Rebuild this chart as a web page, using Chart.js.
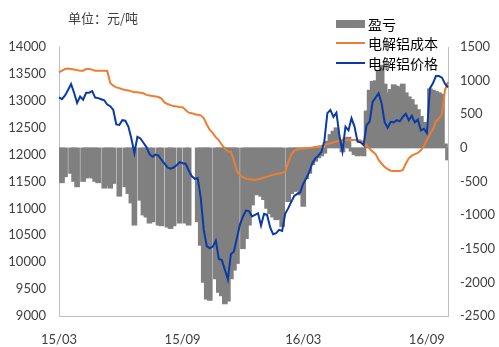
<!DOCTYPE html>
<html>
<head>
<meta charset="utf-8">
<script src="https://cdn.jsdelivr.net/npm/chart.js@4.4.1/dist/chart.umd.min.js"></script>
<style>
  body { margin: 0; background: #fff; }
  #wrap { position: relative; width: 499px; height: 347px; }
  .unit { position: absolute; left: 68px; top: 8px; font: 13px "Noto Sans CJK SC", sans-serif; color: #404040; }
  #legend { position: absolute; left: 336px; top: 14px; font: 14px "Noto Sans CJK SC", sans-serif; color: #000; }
  #legend .row { height: 19.5px; display: flex; align-items: center; }
  #legend .sw { width: 29px; margin-right: 3px; }
</style>
</head>
<body>
<div id="wrap">
  <canvas id="chart" width="499" height="347"></canvas>
  <div class="unit">单位：元/吨</div>
  <div id="legend"></div>
</div>
<script>
// x tick labels and where they sit in the series
const tickLabels = ['15/03', '15/09', '16/03', '16/09'];
const tickIndex = [0, 41, 81, 122];

// 电解铝成本 (left axis)
const cost = [
  13530, 13560, 13590, 13600, 13590, 13580, 13570, 13560, 13560, 13590,
  13590, 13580, 13560, 13560, 13560, 13560, 13555, 13330, 13280, 13250,
  13235, 13215, 13200, 13190, 13175, 13160, 13160, 13150, 13140, 13110,
  13100, 13090, 13080, 13070, 13040, 12970, 12940, 12920, 12905, 12895,
  12885, 12880, 12830, 12780, 12770, 12750, 12740, 12730, 12680, 12560,
  12460, 12400, 12320, 12270, 12180, 12110, 12060, 12055, 11890, 11690,
  11610, 11580, 11555, 11540, 11535, 11530, 11540, 11555, 11575, 11590,
  11610, 11625, 11640, 11650, 11660, 11680, 11850, 12000, 12070, 12100,
  12110, 12115, 12120, 12125, 12130, 12140, 12150, 12160, 12175, 12195,
  12210, 12230, 12240, 12260, 12272, 12272, 12272, 12272, 12272, 12272,
  12265, 12230, 12170, 12110, 12055, 12010, 11900, 11830, 11770, 11730,
  11700, 11695, 11695, 11695, 11710, 11830, 11930, 11980, 12010, 12030,
  12080, 12160, 12270, 12380, 12470, 12620, 12670, 12750, 13200, 13350
];

// 电解铝价格 (left axis)
const price = [
  13065, 13030, 13100, 13200, 13310, 13150, 12960, 13080, 13020, 13150,
  13150, 13180, 13060, 13050, 13030, 13010, 12930, 12900, 12830, 12560,
  12550, 12640, 12630, 12520, 12300, 12030, 12330, 12300, 12220, 12140,
  12010, 11960, 12000, 11980, 11900, 11830, 11760, 11740, 11760, 11800,
  11860, 11840, 11830, 11710, 11600, 11550, 11560, 11200, 10600, 10300,
  10260, 10290, 10400, 10060, 10040, 9860, 9680, 10150, 10200, 10450,
  10700, 10850, 10960, 10950, 10850, 10880, 10910, 10680, 10900, 10880,
  10650, 10520, 10540, 10600, 10580, 10900, 11000, 11120, 11230, 11270,
  11300, 11460, 11560, 11680, 11840, 11930, 11980, 12050, 12250, 12770,
  12830, 12700, 12780, 12350, 12060, 12520, 12450, 12675, 12520, 12240,
  12230, 12180, 12550, 12610, 12980, 13060, 13140, 12950, 12600, 12500,
  12610, 12600, 12640, 12620, 12700, 12760, 12640, 12720, 12600, 12650,
  12450, 12480, 12400, 13230, 13325, 13460, 13460, 13430, 13320, 13250
];

// 盈亏 (right axis), null = no data that day
const profit = [
  -480, -520, -430, null, -380, -500, -580, null, -500, -450,
  -430, -450, -500, -520, null, -600, -560, -600, -530, null,
  -720, null, -580, -680, -820, -1150, null, -780, -1000, -1030,
  -1120, -1100, null, -1150, -1160, null, -1180, -1200, -1160, null,
  -1120, null, -1120, -1150, null, null, -1100, -1450, -2000, -2250,
  -2270, null, -1950, -2150, -2200, -2320, -2280, -1950, -1820, -1720,
  null, -1500, -1350, -1150, -850, -700, -690, -720, -770, -900,
  -980, -1030, -1070, -1060, -1170, null, -800, -680, -650, -630,
  -700, -870, -460, -380, -250, -200, -150, -120, -80, 100,
  200, 250, 300, 100, -60, 150, 160, -50, -100, -120,
  -110, -120, 550, 860, 990, 1000, 1150, 1230, 950, 820,
  870, 940, 920, 900, 950, 820, 760, 720, 640, 570,
  470, 380, 250, 880, 860, 840, 820, 800, 60, -180
];

const labels = price.map((_, i) => {
  const k = tickIndex.indexOf(i);
  return k >= 0 ? tickLabels[k] : '';
});

const tickFont = { family: 'Lato', size: 13 };
const axisColor = '#bfbfbf';
const plain = v => String(v);

const chart = new Chart(document.getElementById('chart'), {
  data: {
    labels: labels,
    datasets: [
      {
        type: 'line',
        label: '电解铝价格',
        data: price,
        yAxisID: 'y',
        borderColor: '#0a3aa6',
        borderWidth: 2,
        pointRadius: 0,
        tension: 0,
        order: 0
      },
      {
        type: 'line',
        label: '电解铝成本',
        data: cost,
        yAxisID: 'y',
        borderColor: '#ed7d31',
        borderWidth: 2,
        pointRadius: 0,
        tension: 0,
        order: 1
      },
      {
        type: 'bar',
        label: '盈亏',
        data: profit,
        yAxisID: 'y1',
        backgroundColor: '#808080',
        borderWidth: 0,
        barThickness: 5,
        grouped: false,
        order: 2
      }
    ]
  },
  options: {
    responsive: false,
    animation: false,
    devicePixelRatio: 1,
    layout: { padding: { top: 47, left: 0, right: 0, bottom: 0 } },
    plugins: {
      legend: { display: false },
      tooltip: { enabled: false }
    },
    scales: {
      x: {
        type: 'category',
        offset: false,
        grid: { display: false, drawTicks: false },
        border: { color: axisColor },
        ticks: {
          autoSkip: false,
          maxRotation: 0,
          padding: 16,
          font: tickFont,
          color: '#404040',
          callback: function (v) { return this.getLabelForValue(v) || null; }
        },
        afterFit: s => { s.height = 31; }
      },
      y: {
        position: 'left',
        min: 9000,
        max: 14000,
        grid: { display: false, drawTicks: false },
        border: { color: axisColor },
        ticks: { stepSize: 500, padding: 13, font: tickFont, color: '#404040', callback: plain },
        afterFit: s => { s.width = 59; }
      },
      y1: {
        position: 'right',
        min: -2500,
        max: 1500,
        grid: { display: false, drawTicks: false },
        border: { color: axisColor },
        ticks: { stepSize: 500, padding: 12, font: tickFont, color: '#404040', callback: plain },
        afterFit: s => { s.width = 51; }
      }
    }
  }
});

// legend in the reference order: bars first, then cost, then price
const legend = document.getElementById('legend');
['盈亏', '电解铝成本', '电解铝价格'].forEach(name => {
  const ds = chart.data.datasets.find(d => d.label === name);
  const row = document.createElement('div');
  row.className = 'row';
  const sw = document.createElement('span');
  sw.className = 'sw';
  if (ds.type === 'bar') {
    sw.style.height = '8px';
    sw.style.background = ds.backgroundColor;
  } else {
    sw.style.height = '2px';
    sw.style.background = ds.borderColor;
  }
  const txt = document.createElement('span');
  txt.textContent = name;
  row.appendChild(sw);
  row.appendChild(txt);
  legend.appendChild(row);
});
</script>
</body>
</html>
